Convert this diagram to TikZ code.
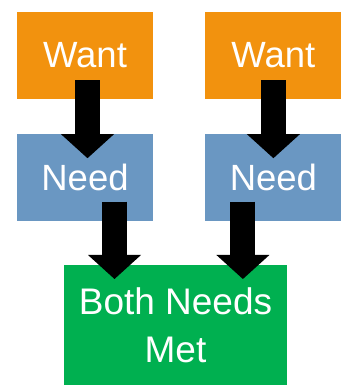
\documentclass[tikz,border=0pt]{standalone}
\usepackage{fontspec}
\setmainfont{Liberation Sans}
\usetikzlibrary{arrows.meta,positioning}
\definecolor{wantorange}{RGB}{242,146,14}
\definecolor{needblue}{RGB}{106,151,194}
\definecolor{metgreen}{RGB}{0,176,80}

\begin{document}
\begin{tikzpicture}[
  x=1pt, y=1pt,
  node distance=35pt and 52pt,
  wantbox/.style={rectangle, fill=wantorange, minimum width=136pt, minimum height=87pt, inner sep=0pt, text=white, font=\fontsize{36.5}{48}\selectfont},
  needbox/.style={rectangle, fill=needblue, minimum width=136pt, minimum height=87pt, inner sep=0pt, text=white, font=\fontsize{36.5}{48}\selectfont},
  metbox/.style={rectangle, fill=metgreen, minimum width=223pt, minimum height=120pt, inner sep=0pt, align=center, text=white, font=\fontsize{37}{48}\selectfont},
  bigarr/.style={-{Triangle[width=53pt, length=24pt, line width=0pt]}, line width=25pt, draw=black}
]
\useasboundingbox (0,0) rectangle (342,385);
\node[wantbox] (wantL) at (85,329.5) {Want};
\node[wantbox, right=of wantL] (wantR) {Want};
\node[needbox, below=of wantL] (needL) {Need};
\node[needbox, below=of wantR] (needR) {Need};
\node[metbox, anchor=north] (both) at (175.5,120) {Both Needs\\Met};

\draw[bigarr] ([shift={(2.5,19)}]wantL.south) -- ([shift={(2.5,-24)}]needL.north);
\draw[bigarr] ([shift={(0,19)}]wantR.south) -- ([shift={(0,-24)}]needR.north);
\draw[bigarr] ([shift={(29.5,20)}]needL.south) -- ([shift={(29.5,-14)}]needL.south |- both.north);
\draw[bigarr] ([shift={(-30.5,20)}]needR.south) -- ([shift={(-30.5,-14)}]needR.south |- both.north);
\end{tikzpicture}
\end{document}
